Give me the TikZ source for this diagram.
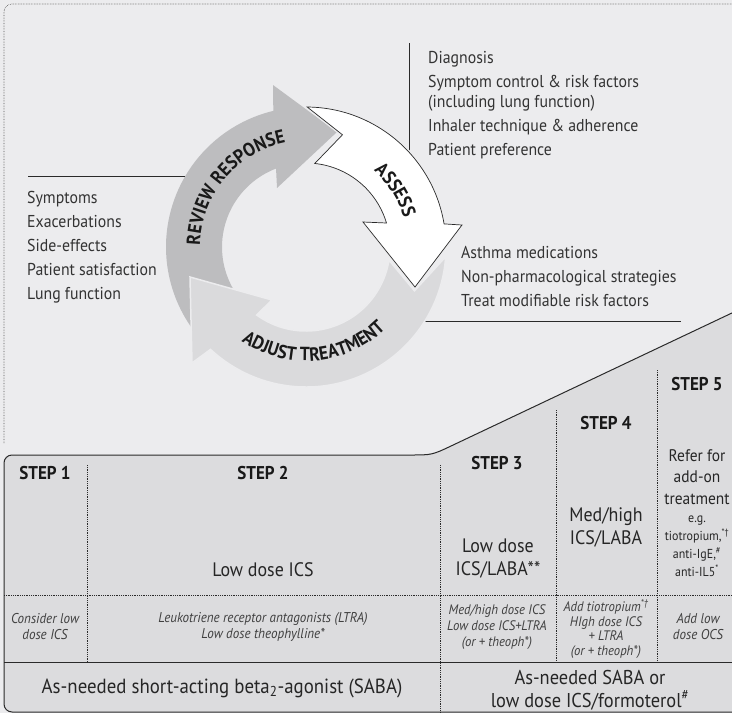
\documentclass[tikz,border=0pt]{standalone}
\usepackage{fontspec}
\setmainfont{PT Sans}[FakeStretch=0.92]
\usepackage{tikz}
\usepackage{xcolor}
\usetikzlibrary{calc,decorations.text}
\definecolor{backcolor}{HTML}{ECECEE}
\definecolor{tablecolor}{HTML}{DCDCDE}
\definecolor{reviewcolor}{HTML}{BDBDBF}
\definecolor{adjustcolor}{HTML}{DADADC}
\definecolor{linecolor}{HTML}{2A2A2A}
\colorlet{textcolor}{black!80}
\tikzstyle{listtext} = [
    anchor=north west,
    inner sep=0pt,
    align=left,
    text=textcolor,
    font=\fontsize{17.2}{24}\selectfont
    ]
\tikzstyle{steptitle} = [
    inner sep=0pt,
    text=black!90,
    font=\bfseries\fontsize{18.5}{20}\selectfont
    ]
\tikzstyle{maintext} = [
    inner sep=0pt,
    align=center,
    text=black!85,
    font=\fontsize{19.5}{23}\selectfont
    ]
\tikzstyle{notetext} = [
    inner sep=0pt,
    align=center,
    text=black!75,
    font=\itshape\fontsize{14.2}{16}\selectfont
    ]
\tikzstyle{leader} = [draw=linecolor, line width=1pt]
\tikzstyle{divider} = [draw=linecolor, line width=0.8pt, densely dotted]
\tikzstyle{ringtext} = [
    decorate,
    decoration={text along path, text align=center, text color=black!90}
    ]
\newcommand{\ringfont}{\bfseries\fontsize{19}{20}\selectfont}

\begin{document}
\begin{tikzpicture}[x=1pt, y=-1pt]
\useasboundingbox (0,0) rectangle (732,713);
\clip (0,0) rectangle (732,713);
\fill[backcolor] (0,0) rectangle (732,713);

% frame of the cycle panel
\draw[linecolor!80, line width=0.6pt, densely dotted] (4,443) -- (4,12)
    arc[start angle=180, end angle=270, radius=8] -- (740,4);

% leader lines
\coordinate (assesstop) at (409,43);
\coordinate (assessend) at (409,175);
\coordinate (reviewleft) at (28,176);
\coordinate (reviewend) at (200,176);
\coordinate (adjuststart) at (400,321);
\coordinate (adjustright) at (681,321);
\draw[leader] (assesstop) -- (assessend);
\draw[leader] (reviewleft) -- (reviewend);
\draw[leader] (adjuststart) -- (adjustright);

% step table
\filldraw[fill=tablecolor, draw=linecolor, line width=1pt]
    (760,299.7) -- (451.9,445.6) .. controls (432,455) .. (410,455) -- (12,455)
    arc[start angle=-90, end angle=-180, radius=8] -- (4,704)
    arc[start angle=180, end angle=90, radius=8] -- (760,712) -- cycle;
\draw[divider] (4,595) -- (740,595);
\draw[leader] (4,662) -- (740,662);
\draw[divider] (87,465) -- (87,662);
\draw[divider] (440,465) -- (440,713);
\draw[divider] (556,410) -- (556,662);
\draw[divider] (657,370) -- (657,662);

% the cycle
\coordinate (c) at (306,247);
\fill[reviewcolor] ($(c)+(-216:140)$) arc[start angle=-216, end angle=-103.5, radius=140]
    -- (273,85) -- (337,132) -- (277,188) -- ($(c)+(-110.9:84)$)
    arc[start angle=-110.9, end angle=-216, radius=84] -- cycle;
\filldraw[fill=adjustcolor, draw=backcolor, line width=1.5pt]
    ($(c)+(4:140)$) arc[start angle=4, end angle=133, radius=140]
    -- (192,363) -- (190,277) -- (272,300) -- ($(c)+(126:84)$)
    arc[start angle=126, end angle=9, radius=84] -- ($(c)+(22:117)$) -- cycle;
\filldraw[fill=white, draw=linecolor, line width=0.7pt,
    preaction={draw=backcolor, line width=3.5pt}]
    ($(c)+(-89.5:140)$) arc[start angle=-89.5, end angle=-9.5, radius=140]
    -- (462,225) -- (415,287) -- (363,222) -- ($(c)+(-16.6:84)$)
    arc[start angle=-16.6, end angle=-84, radius=84] -- ($(c)+(-72:118)$) -- cycle;

\path[ringtext, decoration={text={|\ringfont|REVIEW RESPONSE}}]
    ($(c)+(-200:106)$) arc[start angle=-200, end angle=-80, radius=106];
\path[ringtext, decoration={text={|\ringfont|ASSESS}}]
    ($(c)+(-80:102)$) arc[start angle=-80, end angle=15, radius=102];
\path[ringtext, decoration={text={|\ringfont|ADJUST TREATMENT}}]
    ($(c)+(-200:114)$) arc[start angle=-200, end angle=-350, radius=114];

% lists round the cycle
\node[listtext, font=\fontsize{17.2}{20}\selectfont] (assesslist) at (428,51) {Diagnosis\\[4pt]
    Symptom control \& risk factors\\(including lung function)\\[4pt]
    Inhaler technique \& adherence\\[4pt]Patient preference};
\node[listtext] (reviewlist) at (27,191) {Symptoms\\Exacerbations\\Side-effects\\
    Patient satisfaction\\Lung function};
\node[listtext] (adjustlist) at (461,246) {Asthma medications\\
    Non-pharmacological strategies\\Treat modifiable risk factors};

% steps
\node[steptitle] (step1) at (45,473) {STEP 1};
\node[steptitle] (step2) at (263,473) {STEP 2};
\node[steptitle] (step3) at (497,463) {STEP 3};
\node[steptitle] (step4) at (606,423) {STEP 4};
\node[steptitle] (step5) at (697,384) {STEP 5};

\node[maintext] (lowics) at (263,570) {Low dose ICS};
\node[maintext] (lowlaba) at (498,559) {Low dose\\ICS/LABA**};
\node[maintext] (medlaba) at (606,527) {Med/high\\ICS/LABA};
\node[maintext, font=\fontsize{16.8}{21.5}\selectfont] (referfor) at (697,477)
    {Refer for\\add-on\\treatment};
\node[maintext, font=\fontsize{13}{18}\selectfont] (addon) at (697,546)
    {e.g.\\tiotropium,\textsuperscript{*\textdagger}\\anti-IgE,\textsuperscript{\#}\\anti-IL5\textsuperscript{*}};

\node[notetext] (note1) at (45,627) {Consider low\\dose ICS};
\node[notetext] (note2) at (263,627) {Leukotriene receptor antagonists (LTRA)\\Low dose theophylline*};
\node[notetext, font=\itshape\fontsize{13.8}{16}\selectfont] (note3) at (497,627)
    {Med/high dose ICS\\Low dose ICS+LTRA\\(or + theoph*)};
\node[notetext, font=\itshape\fontsize{13.8}{14.5}\selectfont] (note4) at (606,629)
    {Add tiotropium\textsuperscript{*\textdagger}\\HIgh dose ICS\\+ LTRA\\(or + theoph*)};
\node[notetext] (note5) at (698,627) {Add low\\dose OCS};

\node[maintext, font=\fontsize{20.5}{23}\selectfont] (saba) at (222,688)
    {As-needed short-acting beta\textsubscript{2}-agonist (SABA)};
\node[maintext, font=\fontsize{20}{23}\selectfont] (sabaics) at (590,690)
    {As-needed SABA or\\low dose ICS/formoterol\textsuperscript{\#}};
\end{tikzpicture}
\end{document}
